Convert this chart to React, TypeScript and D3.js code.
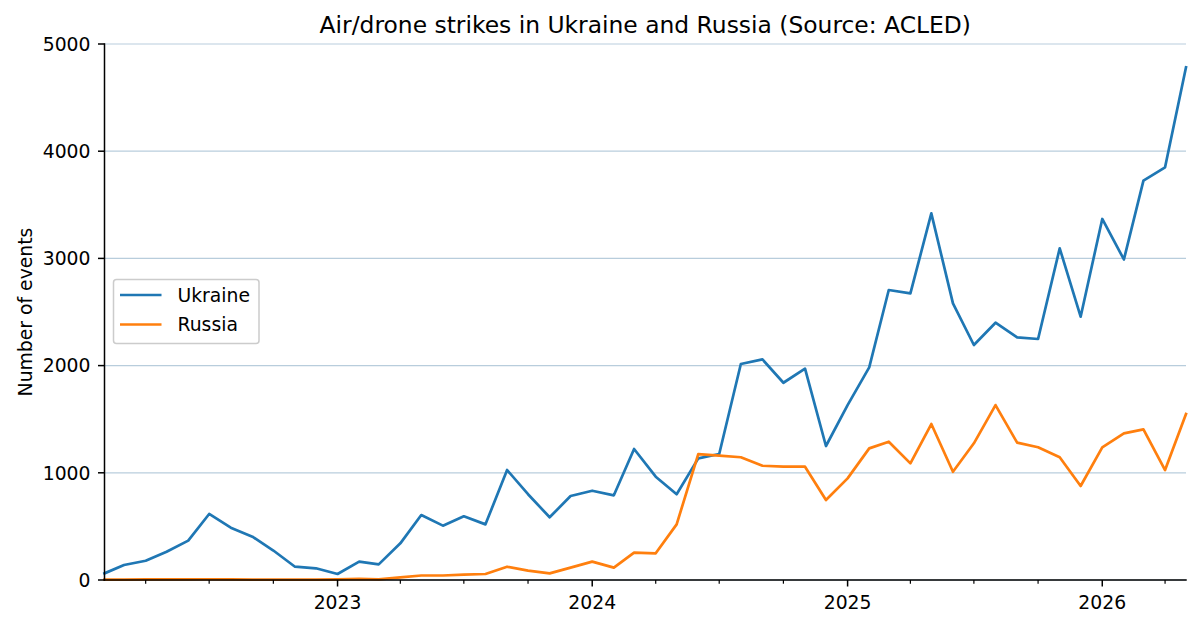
import { useEffect, useRef } from "react";
import * as d3 from "d3";

// monthly counts, Feb 2022 .. May 2026
const months = d3.timeMonth.range(new Date(2022, 1, 1), new Date(2026, 5, 1));

const ukraine = [
  62, 140, 180, 264, 367, 616, 488, 404, 275, 124, 109,
  56, 171, 146, 342, 606, 507, 594, 519, 1026, 800, 585, 783,
  833, 790, 1222, 964, 800, 1135, 1175, 2015, 2058, 1840, 1971, 1250,
  1632, 1984, 2705, 2674, 3420, 2580, 2192, 2400, 2264, 2248, 3094, 2456,
  3368, 2990, 3725, 3850, 4783,
];

const russia = [
  3, 4, 5, 5, 6, 7, 5, 4, 3, 4, 4,
  5, 10, 5, 25, 42, 42, 50, 56, 124, 87, 62, 115,
  171, 115, 255, 249, 519, 1175, 1160, 1145, 1066, 1057, 1057, 746,
  948, 1228, 1290, 1088, 1455, 1010, 1275, 1632, 1281, 1238, 1145, 877,
  1238, 1368, 1405, 1026, 1548,
];

const seriesNames = ["Ukraine", "Russia"];
const seriesColors = ["#1f77b4", "#ff7f0e"];
const yTicks = [0, 1000, 2000, 3000, 4000, 5000];

const W = 1200;
const H = 628;
const M = { left: 104.5, right: 1186, top: 44, bottom: 580 };
const FONT = "DejaVu Sans, sans-serif";
const FS = 18.8;

export default function App() {
  const svgRef = useRef<SVGSVGElement>(null);

  useEffect(() => {
    if (!svgRef.current) return;
    const svg = d3.select(svgRef.current);
    svg.selectAll("*").remove();

    const x = d3
      .scaleTime()
      .domain([months[0], months[months.length - 1]])
      .range([M.left, M.right]);
    const y = d3.scaleLinear().domain([0, 5000]).range([M.bottom, M.top]);

    // horizontal grid
    svg.append("g")
      .selectAll("line")
      .data(yTicks)
      .enter()
      .append("line")
      .attr("x1", M.left)
      .attr("x2", M.right)
      .attr("y1", (d) => y(d))
      .attr("y2", (d) => y(d))
      .attr("stroke", "#b0c8d8")
      .attr("stroke-opacity", 0.9)
      .attr("stroke-width", 1.2);

    // lines
    const line = d3
      .line<number>()
      .x((_, i) => x(months[i]))
      .y((d) => y(d));

    [ukraine, russia].forEach((vals, k) => {
      svg.append("path")
        .datum(vals)
        .attr("d", line)
        .attr("fill", "none")
        .attr("stroke", seriesColors[k])
        .attr("stroke-width", 2.7)
        .attr("stroke-linejoin", "round")
        .attr("stroke-linecap", "square");
    });

    // spines
    svg.append("line")
      .attr("x1", M.left).attr("x2", M.left)
      .attr("y1", M.top).attr("y2", M.bottom)
      .attr("stroke", "black").attr("stroke-width", 1.5)
      .attr("stroke-linecap", "square");
    svg.append("line")
      .attr("x1", M.left).attr("x2", M.right)
      .attr("y1", M.bottom).attr("y2", M.bottom)
      .attr("stroke", "black").attr("stroke-width", 1.5)
      .attr("stroke-linecap", "square");

    // y ticks
    const yg = svg.append("g");
    yTicks.forEach((t) => {
      yg.append("line")
        .attr("x1", M.left - 6.5).attr("x2", M.left)
        .attr("y1", y(t)).attr("y2", y(t))
        .attr("stroke", "black").attr("stroke-width", 1.5);
      yg.append("text")
        .attr("x", M.left - 14)
        .attr("y", y(t))
        .attr("dy", "0.36em")
        .attr("text-anchor", "end")
        .attr("font-family", FONT)
        .attr("font-size", FS)
        .text(String(t));
    });

    // x ticks: years major, quarters minor
    const xg = svg.append("g");
    const [d0, d1] = x.domain();
    d3.timeMonth.every(3)!.range(d0, d3.timeDay.offset(d1, 1)).forEach((d) => {
      if (d.getMonth() === 0) return;
      xg.append("line")
        .attr("x1", x(d)).attr("x2", x(d))
        .attr("y1", M.bottom).attr("y2", M.bottom + 3.7)
        .attr("stroke", "black").attr("stroke-width", 1.2);
    });
    d3.timeYear.range(d0, d3.timeDay.offset(d1, 1)).forEach((d) => {
      xg.append("line")
        .attr("x1", x(d)).attr("x2", x(d))
        .attr("y1", M.bottom).attr("y2", M.bottom + 6.5)
        .attr("stroke", "black").attr("stroke-width", 1.5);
      xg.append("text")
        .attr("x", x(d))
        .attr("y", 608.5)
        .attr("text-anchor", "middle")
        .attr("font-family", FONT)
        .attr("font-size", FS)
        .text(d3.timeFormat("%Y")(d));
    });

    // title
    svg.append("text")
      .attr("x", (M.left + M.right) / 2)
      .attr("y", 32.5)
      .attr("text-anchor", "middle")
      .attr("font-family", FONT)
      .attr("font-size", 23.4)
      .text("Air/drone strikes in Ukraine and Russia (Source: ACLED)");

    // y label
    svg.append("text")
      .attr("transform", `translate(31.5,${(M.top + M.bottom) / 2}) rotate(-90)`)
      .attr("text-anchor", "middle")
      .attr("font-family", FONT)
      .attr("font-size", FS)
      .text("Number of events");

    // legend
    const lg = svg.append("g");
    lg.append("rect")
      .attr("x", 113.5).attr("y", 279.5)
      .attr("width", 145.5).attr("height", 64)
      .attr("rx", 3)
      .attr("fill", "white").attr("fill-opacity", 0.8)
      .attr("stroke", "#cccccc").attr("stroke-width", 1.5);
    seriesNames.forEach((name, i) => {
      const ly = 295 + i * 29.5;
      lg.append("line")
        .attr("x1", 120).attr("x2", 161.5)
        .attr("y1", ly).attr("y2", ly)
        .attr("stroke", seriesColors[i]).attr("stroke-width", 2.7);
      lg.append("text")
        .attr("x", 177.5).attr("y", ly)
        .attr("dy", "0.36em")
        .attr("font-family", FONT)
        .attr("font-size", FS)
        .text(name);
    });
  }, []);

  return (
    <svg
      ref={svgRef}
      width={W}
      height={H}
      style={{ position: "absolute", left: 0, top: 0, background: "white" }}
    />
  );
}
